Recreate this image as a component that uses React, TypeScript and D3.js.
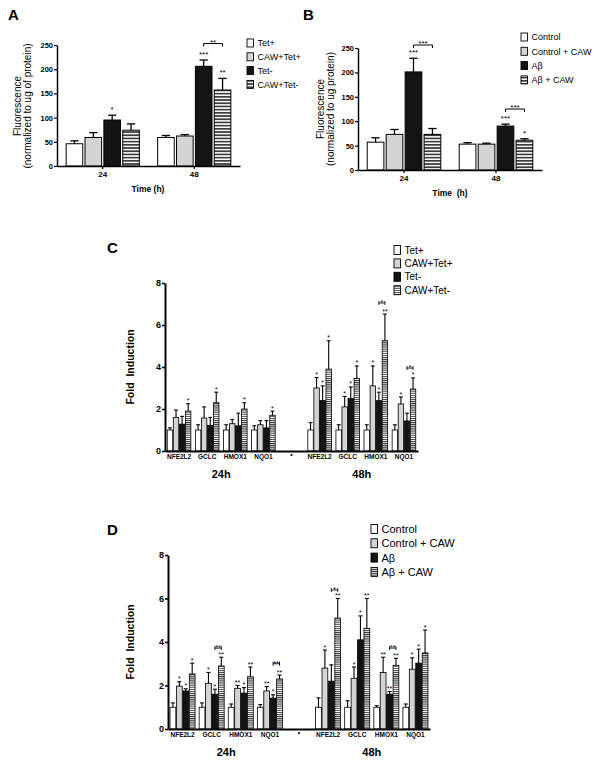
import React, { useRef, useEffect } from 'react';
import * as d3 from 'd3';

const FONT = "'Liberation Sans', Arial, sans-serif";

// legends
const seriesTet = ["Tet+", "CAW+Tet+", "Tet-", "CAW+Tet-"];
const seriesAb = ["Control", "Control + CAW", "Aβ", "Aβ + CAW"];

// panels A, B: fluorescence
const timePoints = ["24", "48"];
const fluoTicks = [0, 50, 100, 150, 200, 250];

const meanA = [[46, 59, 95, 74], [59, 62, 206, 157]];
const errA = [[6, 10, 10, 13], [4, 3, 13, 24]];
const starsA = [["", "", "*", ""], ["", "", "***", "**"]];
const bracketsA = [{ group: 1, from: 2, to: 3, level: 253, label: "**" }];

const meanB = [[57, 73, 201, 73], [53, 53, 90, 61]];
const errB = [[9, 10, 28, 12], [3, 2, 4, 3]];
const starsB = [["", "", "***", ""], ["", "", "***", "*"]];
const bracketsB = [
  { group: 0, from: 2, to: 3, level: 256, label: "***" },
  { group: 1, from: 2, to: 3, level: 125, label: "***" },
];

// panels C, D: fold induction
const genes = ["NFE2L2", "GCLC", "HMOX1", "NQO1"];
const hours = ["24h", "48h"];
const foldTicks = [0, 2, 4, 6, 8];

// rows: 24h NFE2L2, GCLC, HMOX1, NQO1, then 48h same order
const meanC = [
  [1.0, 1.6, 1.28, 1.9], [1.0, 1.57, 1.22, 2.3], [1.0, 1.3, 1.2, 2.0], [1.0, 1.25, 1.1, 1.7],
  [1.0, 3.0, 2.4, 3.9], [1.0, 2.1, 2.5, 3.45], [1.0, 3.1, 2.4, 5.25], [1.0, 2.24, 1.43, 2.95],
];
const errC = [
  [0.1, 0.35, 0.37, 0.35], [0.25, 0.53, 0.38, 0.5], [0.25, 0.2, 0.6, 0.3], [0.2, 0.2, 0.35, 0.2],
  [0.35, 0.5, 0.7, 1.35], [0.25, 0.5, 0.55, 0.6], [0.25, 0.95, 0.4, 1.27], [0.25, 0.33, 0.37, 0.53],
];
const starsC = [
  ["", "", "", "*"], ["", "", "", "*"], ["", "", "", "*"], ["", "", "", "*"],
  ["", "*", "*", "*"], ["", "*", "*", "*"], ["", "*", "*", "**"], ["", "*", "", "*"],
];
const bracketsC = [
  { group: 6, from: 2, to: 3, level: 7.05, label: "*" },
  { group: 7, from: 2, to: 3, level: 3.95, label: "*" },
];

const meanD = [
  [1.0, 1.97, 1.75, 2.53], [1.0, 2.1, 1.6, 2.9], [1.0, 1.87, 1.65, 2.4], [1.0, 1.75, 1.42, 2.3],
  [1.0, 2.8, 2.2, 5.1], [1.0, 2.33, 4.1, 4.63], [1.0, 2.6, 1.6, 2.93], [1.0, 2.75, 3.03, 3.5],
];
const errD = [
  [0.2, 0.2, 0.1, 0.5], [0.2, 0.5, 0.23, 0.4], [0.15, 0.13, 0.25, 0.45], [0.12, 0.2, 0.15, 0.18],
  [0.43, 0.83, 0.75, 0.9], [0.3, 0.52, 1.1, 1.37], [0.07, 0.7, 0.12, 0.32], [0.15, 0.52, 0.64, 1.05],
];
const starsD = [
  ["", "*", "*", "*"], ["", "*", "*", "**"], ["", "**", "*", "**"], ["", "**", "*", "**"],
  ["", "*", "", "**"], ["", "*", "*", "**"], ["", "**", "**", "**"], ["", "*", "*", "*"],
];
const bracketsD = [
  { group: 1, from: 2, to: 3, level: 3.72, label: "**" },
  { group: 3, from: 2, to: 3, level: 3.0, label: "**" },
  { group: 4, from: 2, to: 3, level: 6.39, label: "*" },
  { group: 6, from: 2, to: 3, level: 3.72, label: "**" },
];

type Bracket = { group: number; from: number; to: number; level: number; label: string };

function drawPanel(svg: any, c: any) {
  const g = svg.append("g");
  const x0 = d3.scaleBand<number>().domain(d3.range(c.slotCount)).range(c.xRange)
    .paddingInner(c.pInner).paddingOuter(c.pOuter);
  const x1 = d3.scaleBand<number>().domain(d3.range(4)).range([0, x0.bandwidth()]).paddingInner(c.barPad);
  const y = d3.scaleLinear().domain([0, c.yMax]).range(c.yRange);
  const fills = ["#ffffff", "#d4d4d4", "#141414", `url(#${c.hatch})`];
  const bw = x1.bandwidth();

  c.means.forEach((row: number[], gi: number) => {
    const grp = g.append("g").attr("transform", `translate(${x0(c.slotOf(gi))},0)`);
    grp.selectAll("rect").data(row).join("rect")
      .attr("x", (_: any, i: number) => x1(i))
      .attr("y", (d: number) => y(d))
      .attr("width", bw)
      .attr("height", (d: number) => y(0) - y(d))
      .attr("fill", (_: any, i: number) => fills[i])
      .attr("stroke", "#000")
      .attr("stroke-width", c.barStroke);
    row.forEach((m, i) => {
      const cx = x1(i)! + bw / 2;
      const top = y(m + c.errs[gi][i]);
      grp.append("line").attr("x1", cx).attr("x2", cx).attr("y1", y(m)).attr("y2", top)
        .attr("stroke", "#000").attr("stroke-width", c.errWidth);
      grp.append("line").attr("x1", cx - bw * c.capFrac / 2).attr("x2", cx + bw * c.capFrac / 2)
        .attr("y1", top).attr("y2", top)
        .attr("stroke", "#000").attr("stroke-width", c.errWidth);
      const s = c.stars[gi][i];
      if (s) {
        grp.append("text").attr("x", cx).attr("y", top - c.starLift)
          .attr("text-anchor", "middle").attr("font-size", c.starFont).text(s);
      }
    });
  });

  c.brackets.forEach((b: Bracket) => {
    const gx = x0(c.slotOf(b.group))!;
    const xa = gx + x1(b.from)! + bw / 2;
    const xb = gx + x1(b.to)! + bw / 2;
    const yy = y(b.level);
    g.append("path")
      .attr("d", `M${xa},${yy + c.bTickDown}V${yy - c.bTickUp}M${xa},${yy}H${xb}M${xb},${yy + c.bTickDown}V${yy - c.bTickUp}`)
      .attr("fill", "none").attr("stroke", "#000").attr("stroke-width", c.errWidth * 0.8);
    g.append("text").attr("x", (xa + xb) / 2).attr("y", yy + c.bLabelDy)
      .attr("text-anchor", "middle").attr("font-size", c.starFont).text(b.label);
  });

  const ya = g.append("g").attr("transform", `translate(${c.xRange[0]},0)`)
    .call(d3.axisLeft(y).tickValues(c.yTicks).tickSize(c.tickLen).tickSizeOuter(0).tickPadding(1));
  ya.select(".domain").attr("stroke-width", c.axisWidth);
  ya.selectAll(".tick line").attr("stroke-width", c.axisWidth * 0.8);
  ya.selectAll("text").attr("font-size", c.tickFont).attr("font-weight", "bold").attr("font-family", FONT);

  const xa = g.append("g").attr("transform", `translate(0,${y(0)})`)
    .call(d3.axisBottom(x0).tickSize(c.xTickLen).tickSizeOuter(0).tickPadding(c.xPad)
      .tickFormat((i: number) => c.slotLabel(i)));
  xa.select(".domain").attr("stroke-width", c.axisWidth);
  xa.selectAll(".tick line").attr("stroke-width", c.axisWidth * 0.8);
  xa.selectAll("text").attr("font-size", c.xFont).attr("font-weight", "bold").attr("font-family", FONT);

  return { x0, y };
}

function drawLegend(svg: any, names: string[], hatch: string, x: number, y0: number, step: number, font: number, w: number, h: number) {
  const fills = ["#ffffff", "#d4d4d4", "#141414", `url(#${hatch})`];
  const lg = svg.append("g");
  names.forEach((n, i) => {
    const cy = y0 + i * step;
    lg.append("rect").attr("x", x).attr("y", cy - h / 2).attr("width", w).attr("height", h)
      .attr("fill", fills[i]).attr("stroke", "#000").attr("stroke-width", 0.9);
    lg.append("text").attr("x", x + w + 4).attr("y", cy + font * 0.36).attr("font-size", font).text(n);
  });
}

function vLabel(svg: any, x: number, y: number, text: string, size: number, bold: boolean) {
  svg.append("text").attr("transform", `translate(${x},${y}) rotate(-90)`)
    .attr("text-anchor", "middle").attr("font-size", size)
    .attr("font-weight", bold ? "bold" : "normal").style("white-space", "pre").text(text);
}

function label(svg: any, x: number, y: number, text: string, size: number, anchor = "middle") {
  svg.append("text").attr("x", x).attr("y", y).attr("text-anchor", anchor)
    .attr("font-size", size).attr("font-weight", "bold").style("white-space", "pre").text(text);
}

export default function App() {
  const svgRef = useRef<SVGSVGElement>(null);

  useEffect(() => {
    const svg = d3.select(svgRef.current);
    svg.selectAll("*").remove();
    svg.attr("font-family", FONT);

    const defs = svg.append("defs");
    const mkHatch = (id: string, period: number, dark: number) => {
      const p = defs.append("pattern").attr("id", id).attr("patternUnits", "userSpaceOnUse")
        .attr("width", 4).attr("height", period);
      p.append("rect").attr("width", 4).attr("height", period).attr("fill", "#fff");
      p.append("rect").attr("width", 4).attr("height", dark).attr("fill", "#3c3c3c");
    };
    mkHatch("hatchAB", 3.2, 1.7);
    mkHatch("hatchCD", 2.1, 1.1);

    const abCommon = {
      slotCount: 2, slotOf: (i: number) => i, slotLabel: (i: number) => timePoints[i],
      yMax: 250, yTicks: fluoTicks, pInner: 0.2, pOuter: 0.1, barPad: 0.12,
      hatch: "hatchAB", axisWidth: 1.5, barStroke: 1, errWidth: 1.3, capFrac: 0.5,
      tickFont: 7.5, tickLen: 3, xTickLen: 3, xPad: 2, xFont: 8,
      starFont: 8, starLift: 3, bTickDown: 3, bTickUp: 0, bLabelDy: 1,
    };

    // Panel A
    drawPanel(svg, { ...abCommon, xRange: [57, 240], yRange: [166, 45],
      means: meanA, errs: errA, stars: starsA, brackets: bracketsA });
    drawLegend(svg, seriesTet, "hatchAB", 247, 43, 13.8, 9, 6.5, 8);
    label(svg, 8, 20, "A", 15, "start");
    vLabel(svg, 21, 106, "Fluorescence", 10, false);
    vLabel(svg, 31, 106, "(normalized to ug of protein)", 10, false);
    label(svg, 148, 192, "Time (h)", 8.5);

    // Panel B
    drawPanel(svg, { ...abCommon, xRange: [358, 542], yRange: [170, 48],
      means: meanB, errs: errB, stars: starsB, brackets: bracketsB });
    drawLegend(svg, seriesAb, "hatchAB", 521, 37, 14.3, 9, 6.5, 8);
    label(svg, 303, 20, "B", 15, "start");
    vLabel(svg, 324, 109, "Fluorescence", 10, false);
    vLabel(svg, 334, 109, "(normalized to ug protein)", 10, false);
    label(svg, 450, 196, "Time  (h)", 8.5);

    const cdCommon = {
      slotCount: 9, slotOf: (i: number) => (i < 4 ? i : i + 1),
      slotLabel: (i: number) => (i === 4 ? "" : genes[i < 4 ? i : i - 5]),
      yMax: 8, yTicks: foldTicks, barPad: 0.1,
      hatch: "hatchCD", axisWidth: 2, barStroke: 0.8, errWidth: 1.1, capFrac: 0.7,
      tickFont: 9, tickLen: 3, xTickLen: 0, xPad: 3, xFont: 6.5,
      starFont: 7, starLift: 0.5, bTickDown: 2, bTickUp: 2, bLabelDy: 2,
    };

    const drawFold = (o: any, legendNames: string[], lx: number, ly: number, lstep: number, lfont: number, letter: string, letterY: number) => {
      const { x0, y } = drawPanel(svg, { ...cdCommon, ...o });
      const bw = x0.bandwidth();
      svg.append("circle").attr("cx", x0(4)! + bw / 2).attr("cy", y(0) + 4).attr("r", 1.1).attr("fill", "#000");
      hours.forEach((h, k) => {
        const a = x0(k * 5)! + bw / 2;
        const b = x0(k * 5 + 3)! + bw / 2;
        label(svg, (a + b) / 2, y(0) + 27, h, 11);
      });
      drawLegend(svg, legendNames, "hatchCD", lx, ly, lstep, lfont, 6.5, 9);
      label(svg, 107, letterY, letter, 15, "start");
      vLabel(svg, 134, (y(0) + y(8)) / 2, "Fold  Induction", 10.5, true);
    };

    drawFold({ xRange: [165, 418], yRange: [451, 283], pInner: 0.16, pOuter: 0.08,
      means: meanC, errs: errC, stars: starsC, brackets: bracketsC },
      seriesTet, 394, 250, 13.4, 10, "C", 253);

    drawFold({ xRange: [168, 430], yRange: [729, 555], pInner: 0.14, pOuter: 0.07,
      means: meanD, errs: errD, stars: starsD, brackets: bracketsD },
      seriesAb, 371, 529, 14.3, 11, "D", 535);
  }, []);

  return (
    <svg ref={svgRef} width={601} height={768}
      style={{ position: 'absolute', left: 0, top: 0, background: '#fff' }} />
  );
}
